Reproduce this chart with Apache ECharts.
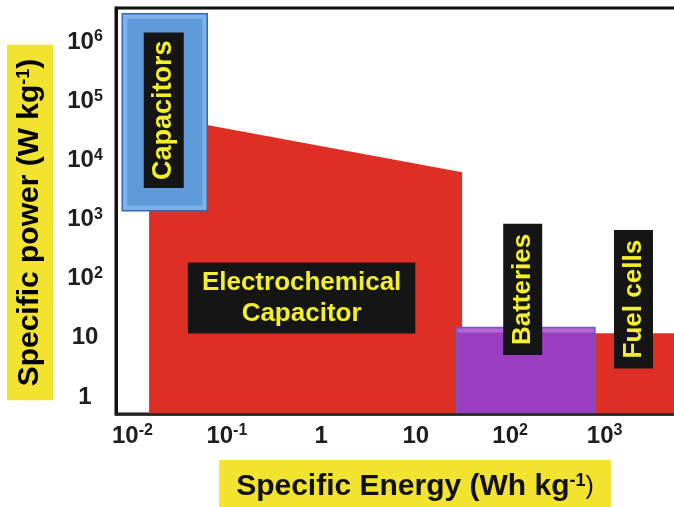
<!DOCTYPE html>
<html>
<head>
<meta charset="utf-8">
<script src="https://cdn.jsdelivr.net/npm/echarts@6/dist/echarts.min.js"></script>
<style>
  html, body { margin: 0; padding: 0; background: #ffffff; }
  #chart { width: 674px; height: 507px; }
</style>
</head>
<body>
<div id="chart"></div>
<script>
// Ragone-type map: specific energy (x) against specific power (y), both logarithmic.

// Tick values and their printed labels ("a^b" means a with superscript b)
const energyTicks = [0.01, 0.1, 1, 10, 100, 1000];
const energyTickLabels = ['10^-2', '10^-1', '1', '10', '10^2', '10^3'];
const powerTicks = [1, 10, 100, 1000, 1e4, 1e5, 1e6];
const powerTickLabels = ['1', '10', '10^2', '10^3', '10^4', '10^5', '10^6'];

// Axis bounds (Wh/kg and W/kg)
const energyBounds = [0.0067, 14400];
const powerBounds = [0.516, 3.76e6];

// Regions: [energy left, energy right, power bottom, power top at left edge, power top at right edge]
const electrochemicalCapacitor = [0.015, 31, 0.516, 6.0e4, 6300];
const fuelCells = [700, 10000, 0.516, 12, 12];
const batteries = [27, 790, 0.516, 15, 15];
const capacitors = [0.0078, 0.062, 1400, 3.0e6, 3.0e6];

const regionLabels = {
  electrochemical: 'Electrochemical\nCapacitor',
  fuel: 'Fuel cells',
  batteries: 'Batteries',
  capacitors: 'Capacitors'
};

const FONT = '"Liberation Sans", Arial, Helvetica, sans-serif';
const RED = '#de2f24';
const TAG_BG = '#151515';
const TAG_TEXT = '#f3ef2b';
const TITLE_BG = '#f2e32f';

function toRich(label) {
  const parts = label.split('^');
  return parts.length === 1 ? '{b|' + parts[0] + '}' : '{b|' + parts[0] + '}{s|' + parts[1] + '}';
}

function tickFormatter(ticks, labels) {
  return function (value) {
    for (let i = 0; i < ticks.length; i++) {
      if (Math.abs(Math.log10(value) - Math.log10(ticks[i])) < 0.01) return toRich(labels[i]);
    }
    return '';
  };
}

const tickRich = {
  b: { fontFamily: FONT, fontWeight: 'bold', fontSize: 24, lineHeight: 26, color: '#1e1e1e' },
  s: { fontFamily: FONT, fontWeight: 'bold', fontSize: 16, lineHeight: 15, color: '#1e1e1e', verticalAlign: 'top' }
};

const titleRich = {
  t: { fontFamily: FONT, fontWeight: 'bold', fontSize: 30, lineHeight: 30, color: '#111111' },
  s: { fontFamily: FONT, fontWeight: 'bold', fontSize: 18, lineHeight: 17, color: '#111111', verticalAlign: 'top' },
  p: { fontFamily: FONT, fontWeight: 'normal', fontSize: 25, lineHeight: 30, color: '#111111' }
};

// Black tag with yellow lettering, centred on (x, y)
function tag(text, x, y, rotation, fontSize, lineHeight, padding) {
  return {
    type: 'text',
    x: x, y: y,
    rotation: rotation,
    z2: 20,
    style: {
      text: text,
      fill: TAG_TEXT,
      font: 'bold ' + fontSize + 'px ' + FONT,
      lineHeight: lineHeight,
      align: 'center',
      verticalAlign: 'middle',
      backgroundColor: TAG_BG,
      padding: padding
    }
  };
}

function corners(api) {
  const eL = api.value(0), eR = api.value(1), pB = api.value(2), pTL = api.value(3), pTR = api.value(4);
  return {
    bl: api.coord([eL, pB]), tl: api.coord([eL, pTL]),
    tr: api.coord([eR, pTR]), br: api.coord([eR, pB])
  };
}

function regionSeries(name, values, z, draw) {
  return {
    type: 'custom',
    name: name,
    coordinateSystem: 'cartesian2d',
    z: z,
    silent: true,
    encode: { x: [0, 1], y: [2, 3, 4] },
    data: [values],
    renderItem: function (params, api) {
      return { type: 'group', children: draw(corners(api)) };
    }
  };
}

const series = [
  regionSeries('Electrochemical Capacitor', electrochemicalCapacitor, 2, function (c) {
    return [
      { type: 'polygon', shape: { points: [c.bl, c.tl, c.tr, c.br] }, style: { fill: RED } },
      tag(regionLabels.electrochemical, (c.bl[0] + c.br[0]) / 2 - 4, c.bl[1] - 116, 0, 26, 31, [5, 14, 4, 14])
    ];
  }),
  regionSeries('Fuel cells', fuelCells, 3, function (c) {
    return [
      { type: 'rect', shape: { x: c.tl[0], y: c.tl[1], width: c.tr[0] - c.tl[0], height: c.bl[1] - c.tl[1] },
        style: { fill: RED } },
      tag(regionLabels.fuel, c.tl[0] + 43.5, c.tl[1] - 34, Math.PI / 2, 26, 27, [6, 10, 6, 10])
    ];
  }),
  regionSeries('Batteries', batteries, 4, function (c) {
    const w = c.tr[0] - c.tl[0], h = c.bl[1] - c.tl[1];
    return [
      { type: 'rect', shape: { x: c.tl[0], y: c.tl[1], width: w, height: h },
        style: { fill: '#9a3ebf', stroke: '#6f58c8', lineWidth: 1.5 } },
      { type: 'rect', shape: { x: c.tl[0] + 1, y: c.tl[1] + 1, width: w - 2, height: 4 },
        style: { fill: '#b36ad6' } },
      tag(regionLabels.batteries, (c.tl[0] + c.tr[0]) / 2 - 3, c.tl[1] - 38, Math.PI / 2, 26, 27, [6, 10, 6, 10])
    ];
  }),
  regionSeries('Capacitors', capacitors, 5, function (c) {
    const w = c.tr[0] - c.tl[0], h = c.bl[1] - c.tl[1];
    return [
      { type: 'rect', shape: { x: c.tl[0], y: c.tl[1], width: w, height: h },
        style: { fill: '#7db2e8', stroke: '#3568b3', lineWidth: 1.5 } },
      { type: 'rect', shape: { x: c.tl[0] + 5, y: c.tl[1] + 5, width: w - 10, height: h - 10 },
        style: { fill: '#5e9ad9' } },
      tag(regionLabels.capacitors, c.tl[0] + w / 2 - 1, c.tl[1] + h / 2 - 2, Math.PI / 2, 27, 28, [6, 8, 6, 8])
    ];
  })
];

const chart = echarts.init(document.getElementById('chart'), null, { renderer: 'canvas' });

chart.setOption({
  backgroundColor: '#ffffff',
  animation: false,
  grid: {
    left: 116, top: 8, width: 598, height: 406,
    show: true, borderColor: '#111111', borderWidth: 3, backgroundColor: 'transparent',
    outerBoundsMode: 'none'
  },
  xAxis: {
    type: 'log', logBase: 10,
    min: energyBounds[0], max: energyBounds[1],
    z: 10,
    name: '{t|Specific Energy (Wh kg}{s|-1}{p|)}',
    nameLocation: 'middle',
    nameGap: 46,
    nameTextStyle: { backgroundColor: TITLE_BG, padding: [12, 17, 14, 17], rich: titleRich },
    axisLine: { show: true, lineStyle: { color: '#262626', width: 2.5 } },
    axisTick: { show: false },
    splitLine: { show: false },
    axisLabel: {
      margin: 9, showMinLabel: false, showMaxLabel: false,
      formatter: tickFormatter(energyTicks, energyTickLabels), rich: tickRich
    }
  },
  yAxis: {
    type: 'log', logBase: 10,
    min: powerBounds[0], max: powerBounds[1],
    z: 10,
    axisLine: { show: true, lineStyle: { color: '#111111', width: 3 } },
    axisTick: { show: false },
    splitLine: { show: false },
    axisLabel: {
      margin: 31, align: 'center', showMinLabel: false, showMaxLabel: false,
      formatter: tickFormatter(powerTicks, powerTickLabels), rich: tickRich
    }
  },
  graphic: [{
    type: 'text',
    x: 30, y: 222.5,
    rotation: Math.PI / 2,
    style: {
      text: '{t|Specific power (W kg}{s|-1}{t|)}',
      rich: titleRich,
      align: 'center', verticalAlign: 'middle',
      backgroundColor: TITLE_BG,
      padding: [8, 14, 8, 14]
    }
  }],
  series: series
});
</script>
</body>
</html>
